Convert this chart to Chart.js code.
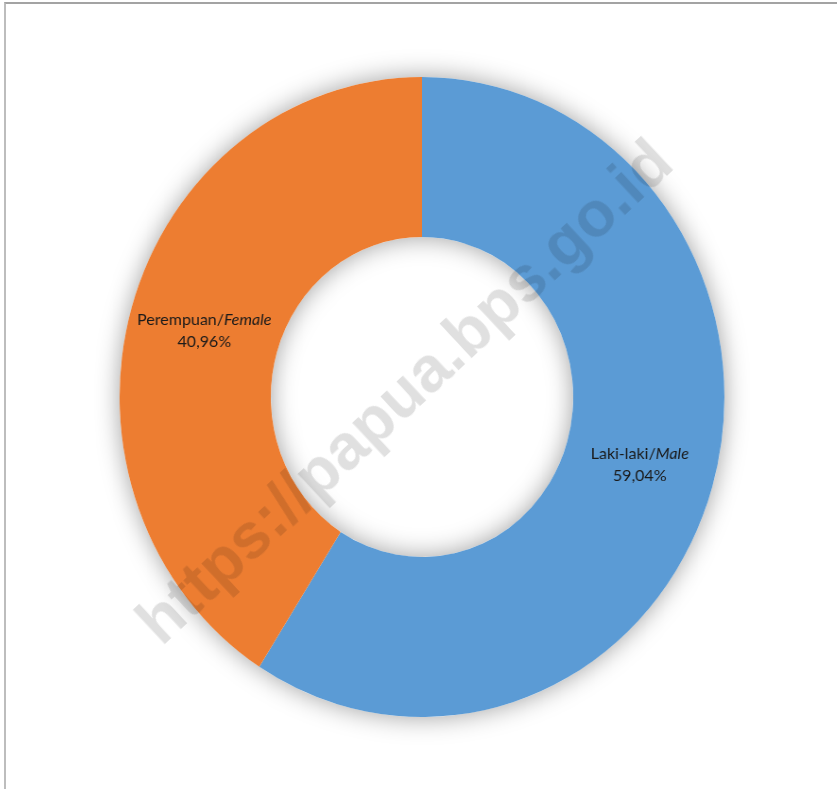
<!DOCTYPE html>
<html>
<head>
<meta charset="utf-8">
<script src="https://cdn.jsdelivr.net/npm/chart.js@4"></script>
<style>
    html, body { margin: 0; padding: 0; background: #fff; }
    body { width: 837px; height: 789px; position: relative; overflow: hidden; }
    #frame {
        position: absolute; left: 4px; top: 2px; right: -10px; bottom: -10px;
        border-top: 2px solid #a3a3a3; border-left: 2px solid #bdbdbd;
    }
    #wrap {
        position: absolute; left: 71.5px; top: 47px; width: 700px; height: 700px;
        transform: scaleX(0.945); transform-origin: 50% 50%;
    }
    #watermark {
        position: absolute; left: 404px; top: 391px;
        transform: translate(-50%, -50%) rotate(-43deg);
        font: bold 64px "Liberation Sans", Arial, sans-serif;
        color: rgba(0, 0, 0, 0.12); white-space: nowrap; pointer-events: none;
    }
</style>
</head>
<body>
<div id="frame"></div>
<div id="wrap"><canvas id="chart"></canvas></div>
<div id="watermark">https://papua.bps.go.id</div>
<script>
const labels = ["Laki-laki/", "Perempuan/"];
const labelsItalic = ["Male", "Female"];
const shares = [59.04, 40.96];
const colors = ["#5B9BD5", "#ED7D31"];
const xStretch = 0.945;

// soft shadow behind the whole ring
const ringShadow = {
    id: "ringShadow",
    beforeDatasetsDraw(chart) {
        const arc = chart.getDatasetMeta(0).data[0];
        if (!arc) return;
        const ctx = chart.ctx;
        ctx.save();
        ctx.shadowColor = "rgba(0,0,0,0.38)";
        ctx.shadowBlur = 26;
        ctx.fillStyle = "#fff";
        ctx.beginPath();
        ctx.arc(arc.x, arc.y, arc.outerRadius, 0, Math.PI * 2);
        ctx.arc(arc.x, arc.y, arc.innerRadius, 0, Math.PI * 2, true);
        ctx.fill();
        ctx.restore();
    }
};

const sliceLabels = {
    id: "sliceLabels",
    afterDatasetsDraw(chart) {
        const ctx = chart.ctx;
        const size = 16;
        const family = "Lato, 'Open Sans', sans-serif";
        chart.getDatasetMeta(0).data.forEach((arc, i) => {
            const pos = arc.tooltipPosition();
            ctx.save();
            ctx.translate(pos.x, pos.y);
            ctx.scale(1 / xStretch, 1);
            ctx.fillStyle = "#1a1a1a";
            ctx.textBaseline = "middle";
            const normal = size + "px " + family;
            const italic = "italic " + size + "px " + family;
            ctx.font = normal;
            const w1 = ctx.measureText(labels[i]).width;
            ctx.font = italic;
            const w2 = ctx.measureText(labelsItalic[i]).width;
            let x = -(w1 + w2) / 2;
            ctx.textAlign = "left";
            ctx.font = normal;
            ctx.fillText(labels[i], x, -10);
            ctx.font = italic;
            ctx.fillText(labelsItalic[i], x + w1, -10);
            ctx.font = normal;
            ctx.textAlign = "center";
            ctx.fillText(shares[i].toFixed(2).replace(".", ",") + "%", 0, 12);
            ctx.restore();
        });
    }
};

const chartInstance = new Chart(document.getElementById("chart"), {
    type: "doughnut",
    data: {
        labels: labels.map((l, i) => l + labelsItalic[i]),
        datasets: [
            {
                data: shares,
                backgroundColor: colors,
                borderWidth: 0,
            },
        ],
    },
    options: {
        responsive: true,
        maintainAspectRatio: false,
        animation: false,
        cutout: "50%",
        layout: { padding: 30 },
        plugins: {
            legend: { display: false },
            tooltip: { enabled: false }
        }
    },
    plugins: [ringShadow, sliceLabels]
});
</script>
</body>
</html>
